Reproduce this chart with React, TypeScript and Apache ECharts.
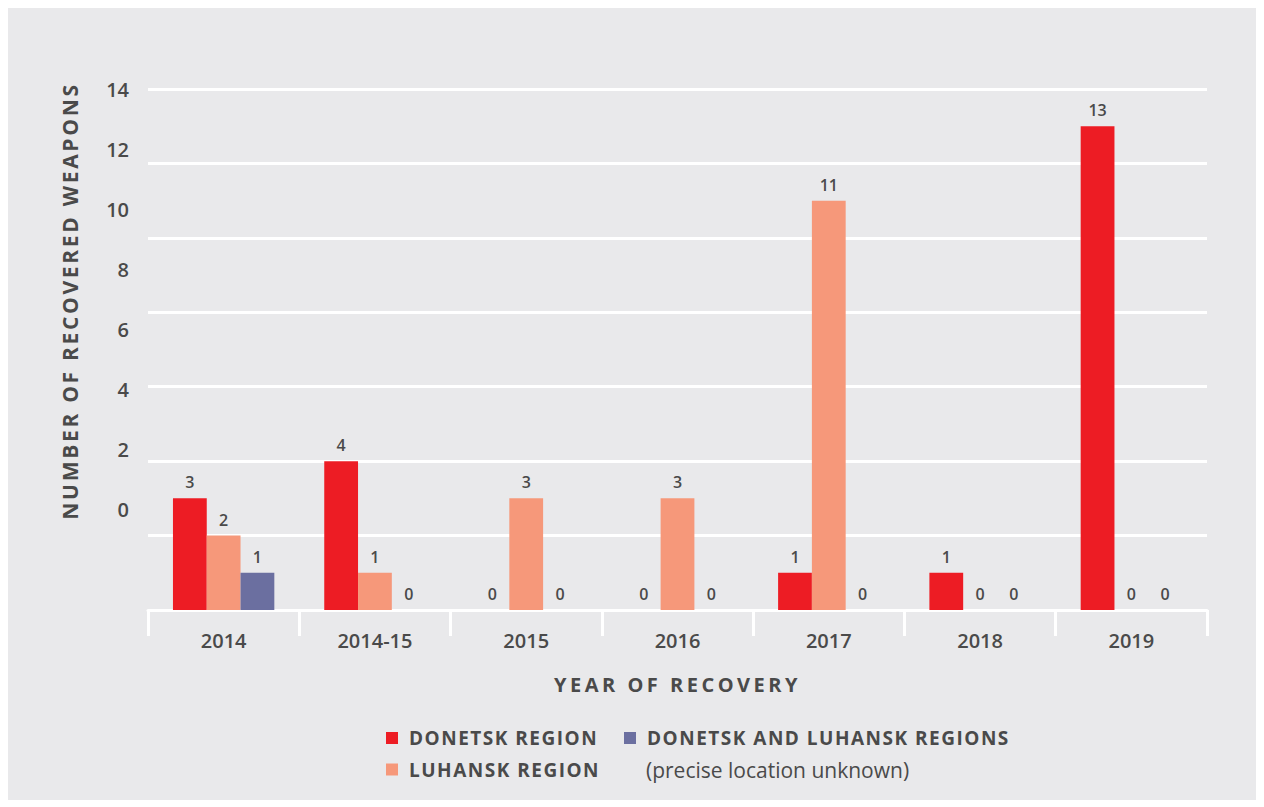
import React, { useEffect, useRef } from "react";
import * as echarts from "echarts";

const categories = ["2014", "2014-15", "2015", "2016", "2017", "2018", "2019"];
const donetsk = [3, 4, 0, 0, 1, 1, 13];
const luhansk = [2, 1, 3, 3, 11, 0, 0];
const both = [1, 0, 0, 0, 0, 0, 0];
const yTickLabels = [0, 2, 4, 6, 8, 10, 12, 14];

const names = {
  donetsk: "DONETSK REGION",
  luhansk: "LUHANSK REGION",
  both: "DONETSK AND LUHANSK REGIONS",
};
const yTitle = "NUMBER OF RECOVERED WEAPONS";
const xTitle = "YEAR OF RECOVERY";
const note = "(precise location unknown)";

const FONT = "'Open Sans', 'Noto Sans', sans-serif";
const TXT = "#4a4a4a";
const BG = "#e9e9eb";

export default function App() {
  const ref = useRef<HTMLDivElement>(null);
  useEffect(() => {
    if (!ref.current) return;
    const chart = echarts.init(ref.current, undefined, { renderer: "svg" });
    const valueLabel = {
      show: true,
      position: "top",
      distance: 8,
      fontSize: 16,
      fontWeight: 600,
      fontFamily: FONT,
      color: TXT,
    };
    const bar = (name: string, data: number[], color: string) => ({
      type: "bar",
      name,
      data,
      xAxisIndex: 0,
      yAxisIndex: 0,
      barGap: "0%",
      barCategoryGap: "33%",
      itemStyle: { color },
      label: valueLabel,
      emphasis: { disabled: true },
    });
    const legendText = {
      fontSize: 19,
      fontWeight: 700,
      color: TXT,
      fontFamily: FONT,
      lineHeight: 20,
      padding: [0, 0, 0, 6],
    };
    chart.setOption({
      animation: false,
      backgroundColor: BG,
      textStyle: { fontFamily: FONT },
      grid: { left: 140, right: 49, top: 81, bottom: 190, containLabel: false },
      xAxis: {
        type: "category",
        data: categories,
        name: xTitle,
        nameLocation: "middle",
        nameGap: 64,
        nameTextStyle: { fontSize: 20, fontWeight: 700, color: TXT, fontFamily: FONT },
        axisLine: { lineStyle: { color: "#ffffff", width: 3 } },
        axisTick: { show: true, length: 26, lineStyle: { color: "#ffffff", width: 3 } },
        axisLabel: { margin: 20, fontSize: 20, fontWeight: 600, color: TXT, fontFamily: FONT },
      },
      yAxis: [
        {
          type: "value",
          min: 0,
          max: 14,
          interval: 2,
          axisLabel: { show: false },
          axisLine: { show: false },
          axisTick: { show: false },
          splitLine: { lineStyle: { color: "#ffffff", width: 3 } },
        },
        {
          type: "value",
          position: "left",
          min: -3.33,
          max: 14,
          axisLine: { show: false },
          axisTick: { show: false },
          splitLine: { show: false },
          axisLabel: {
            customValues: yTickLabels,
            margin: 19,
            fontSize: 20,
            fontWeight: 600,
            color: TXT,
            fontFamily: FONT,
          },
        },
      ],
      legend: [
        {
          data: [names.donetsk, names.luhansk],
          orient: "vertical",
          left: 378,
          top: 720,
          padding: 0,
          itemWidth: 12,
          itemHeight: 12,
          itemGap: 11.5,
          icon: "rect",
          selectedMode: false,
          textStyle: legendText,
        },
        {
          data: [names.both],
          orient: "vertical",
          left: 616,
          top: 720,
          padding: 0,
          itemWidth: 12,
          itemHeight: 12,
          icon: "rect",
          selectedMode: false,
          textStyle: legendText,
        },
      ],
      graphic: [
        {
          type: "text",
          x: 62,
          y: 293,
          rotation: Math.PI / 2,
          style: {
            text: yTitle,
            fontSize: 21,
            fontWeight: 700,
            fontFamily: FONT,
            fill: TXT,
            align: "center",
            verticalAlign: "middle",
          },
        },
        {
          type: "text",
          x: 638,
          y: 762,
          style: {
            text: note,
            fontSize: 21,
            fontWeight: 400,
            fontFamily: FONT,
            fill: TXT,
            align: "left",
            verticalAlign: "middle",
          },
        },
      ],
      series: [
        bar(names.donetsk, donetsk, "#ed1c24"),
        bar(names.luhansk, luhansk, "#f6987a"),
        bar(names.both, both, "#6b6fa0"),
      ],
    });
    const spacing: Record<string, string> = {
      [yTitle]: "2.7",
      [xTitle]: "3.5",
      [names.donetsk]: "1.5",
      [names.luhansk]: "1.5",
      [names.both]: "1.5",
    };
    const applySpacing = () => {
      ref.current?.querySelectorAll("text").forEach((t) => {
        const s = spacing[(t.textContent || "").trim()];
        if (s) t.setAttribute("letter-spacing", s);
      });
    };
    applySpacing();
    chart.on("finished", applySpacing);
    return () => chart.dispose();
  }, []);
  return <div ref={ref} style={{ width: 1248, height: 792, background: BG }} />;
}
